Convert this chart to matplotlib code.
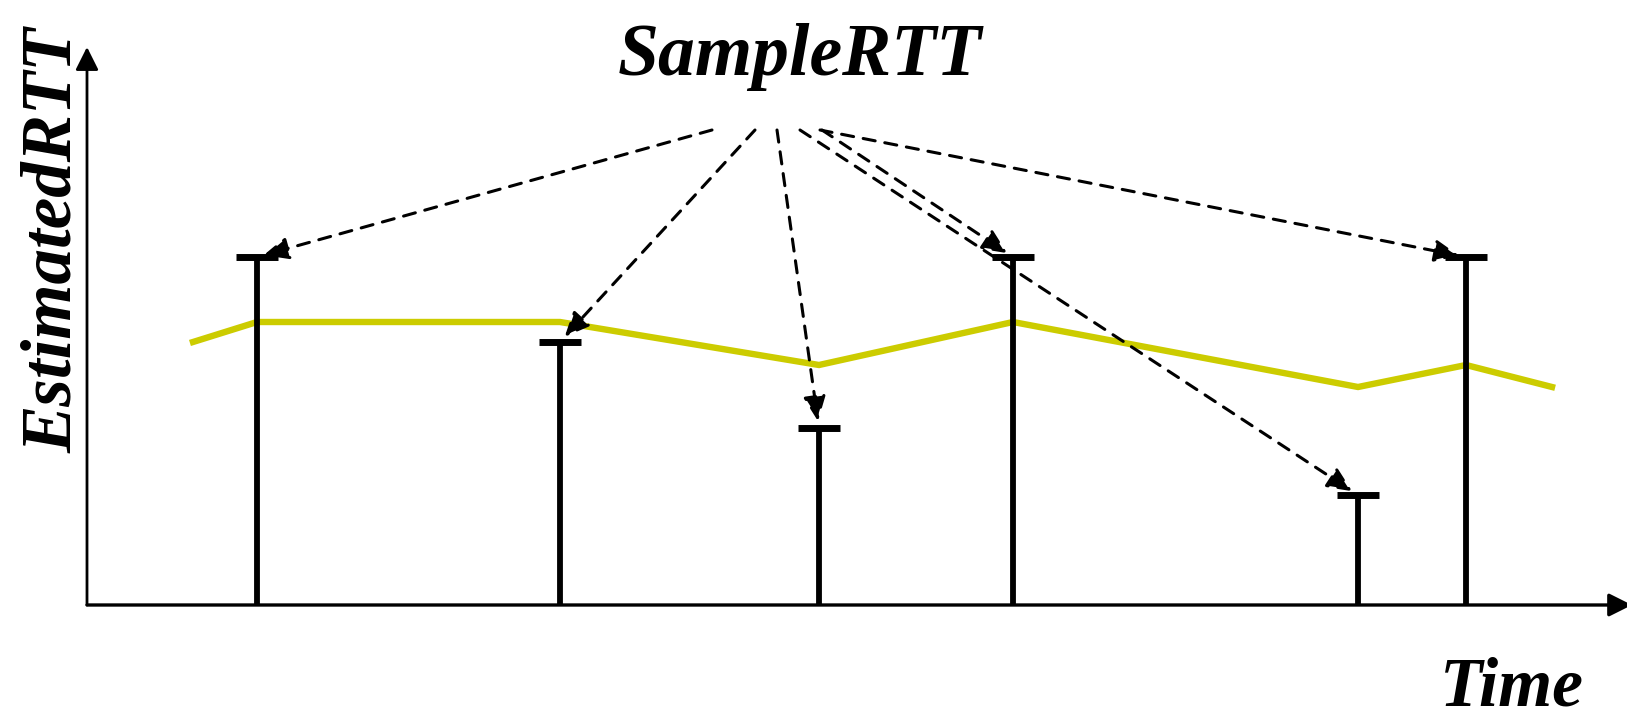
#!/usr/bin/env python3
import matplotlib
matplotlib.use('Agg')
import matplotlib.pyplot as plt

# Dati (tempo e RTT in unita' arbitrarie)
sample_t = [1.70, 4.73, 7.32, 9.26, 12.71, 13.79]
sample_rtt = [3.48, 2.63, 1.77, 3.48, 1.10, 3.48]

est_t = [1.06, 1.70, 4.73, 7.32, 9.26, 12.71, 13.79, 14.65]
est_rtt = [2.63, 2.83, 2.83, 2.40, 2.83, 2.18, 2.40, 2.18]

# punti di partenza delle frecce sotto l'etichetta SampleRTT
arrow_from_t = [6.25, 6.68, 6.90, 7.35, 7.13, 7.33]
arrow_from_rtt = 4.75
# a quale campione punta ogni freccia
arrow_to = [0, 1, 2, 3, 4, 5]

x_max, y_max = 15.40, 5.58
W, H = 1627, 723

fig = plt.figure(figsize=(W / 100, H / 100), dpi=100)
ax = fig.add_axes([87 / W, (H - 605) / H, (W - 87) / W, (605 - 47) / H])
ax.set_xlim(0, x_max)
ax.set_ylim(0, y_max)
ax.axis('off')

# assi con freccia
axis_arrow = dict(arrowstyle='-|>,head_length=1.0,head_width=0.5', mutation_scale=14,
                  color='black', lw=2.4, shrinkA=0, shrinkB=0)
ax.annotate('', xy=(x_max + 0.05, 0), xytext=(0, 0), arrowprops=axis_arrow,
            annotation_clip=False)
ax.annotate('', xy=(0, y_max), xytext=(0, 0),
            arrowprops=dict(axis_arrow, lw=2.0), annotation_clip=False)

# EstimatedRTT (linea gialla)
ax.plot(est_t, est_rtt, color='#CCCC00', lw=4.6, solid_joinstyle='miter', zorder=2)

# SampleRTT: aste verticali con cappello
ax.vlines(sample_t, 0, sample_rtt, color='black', lw=4.2, zorder=3)
ax.plot(sample_t, sample_rtt, ls='none', marker='_', markersize=30, mew=5,
        color='black', zorder=3)

# frecce tratteggiate dall'etichetta ai campioni
for x0, i in zip(arrow_from_t, arrow_to):
    ax.annotate('', xy=(sample_t[i], sample_rtt[i]), xytext=(x0, arrow_from_rtt),
                arrowprops=dict(arrowstyle='-|>,head_length=1.0,head_width=0.45',
                                mutation_scale=15, color='black', lw=2.2,
                                linestyle=(0, (4.0, 3.2)), shrinkA=0, shrinkB=5),
                zorder=4)

font = dict(family='Liberation Serif', weight='bold', style='italic', color='black')
fig.text(800 / W, 1 - 75 / H, 'SampleRTT', ha='center', va='baseline', fontsize=53, **font)
fig.text(54 / W, 1 - 240 / H, 'EstimatedRTT', ha='center', va='center', rotation=90,
         fontsize=51, **font)
fig.text(1512 / W, 2 / H, 'Time', ha='center', va='bottom', fontsize=50, **font)

fig.savefig('out.png', dpi=100)
